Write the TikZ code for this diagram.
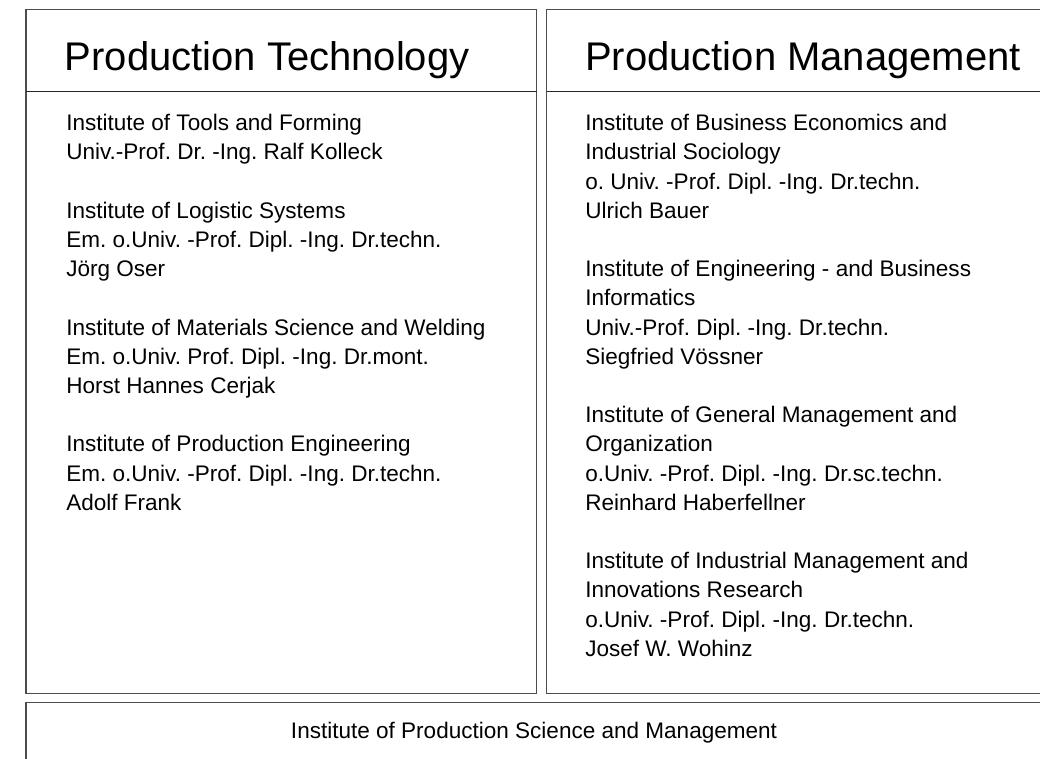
\documentclass[tikz,border=0pt]{standalone}
\usepackage{fontspec}
\setmainfont{Liberation Sans}
\frenchspacing
\newcommand{\colstack}[1]{\vtop{\baselineskip=21.9pt\lineskiplimit=-100pt\lineskip=0pt #1}}
\tikzset{
  x=0.75pt, y=-0.75pt,
  frame/.style={draw=black!70, line width=0.8pt},
  headline/.style={draw=black!85, line width=0.8pt},
  titletext/.style={anchor=base west, inner sep=0pt, font=\fontsize{30pt}{36pt}\selectfont},
  bodytext/.style={anchor=base west, inner sep=0pt, font=\fontsize{16.9pt}{21.9pt}\selectfont},
  foottext/.style={anchor=base, inner sep=0pt, font=\fontsize{16.9pt}{21.9pt}\selectfont}
}
\begin{document}
\begin{tikzpicture}
\useasboundingbox (0,0) rectangle (1040,759);
\clip (0,0) rectangle (1040,759);
\fill[white] (0,0) rectangle (1040,759);
% left column
\draw[frame] (26,9.3) rectangle (536.7,693.8);
\draw[headline] (26,91.7) -- (536.7,91.7);
\node[titletext] (lt) at (64.5,70.7) {Production Technology};
\node[bodytext] (lb) at (66,130.7) {\colstack{%
\hbox{Institute of Tools and Forming}
\hbox{Univ.-Prof. Dr. -Ing. Ralf Kolleck}
\hbox{}
\hbox{Institute of Logistic Systems}
\hbox{Em. o.Univ. -Prof. Dipl. -Ing. Dr.techn.}
\hbox{Jörg Oser}
\hbox{}
\hbox{Institute of Materials Science and Welding}
\hbox{Em. o.Univ. Prof. Dipl. -Ing. Dr.mont.}
\hbox{Horst Hannes Cerjak}
\hbox{}
\hbox{Institute of Production Engineering}
\hbox{Em. o.Univ. -Prof. Dipl. -Ing. Dr.techn.}
\hbox{Adolf Frank}}};
% right column
\draw[frame] (546.7,9.3) rectangle (1060,693.8);
\draw[headline] (546.7,91.7) -- (1060,91.7);
\node[titletext] (rt) at (584.8,70.7) {Production Management};
\node[bodytext] (rb) at (585,130.7) {\colstack{%
\hbox{Institute of Business Economics and}
\hbox{Industrial Sociology}
\hbox{o. Univ. -Prof. Dipl. -Ing. Dr.techn.}
\hbox{Ulrich Bauer}
\hbox{}
\hbox{Institute of Engineering - and Business}
\hbox{Informatics}
\hbox{Univ.-Prof. Dipl. -Ing. Dr.techn.}
\hbox{Siegfried Vössner}
\hbox{}
\hbox{Institute of General Management and}
\hbox{Organization}
\hbox{o.Univ. -Prof. Dipl. -Ing. Dr.sc.techn.}
\hbox{Reinhard Haberfellner}
\hbox{}
\hbox{Institute of Industrial Management and}
\hbox{Innovations Research}
\hbox{o.Univ. -Prof. Dipl. -Ing. Dr.techn.}
\hbox{Josef W. Wohinz}}};
% bottom box
\draw[frame] (26,702.3) rectangle (1042,790);
\node[foottext] (ft) at (534,738.3) {Institute of Production Science and Management};
\end{tikzpicture}
\end{document}
